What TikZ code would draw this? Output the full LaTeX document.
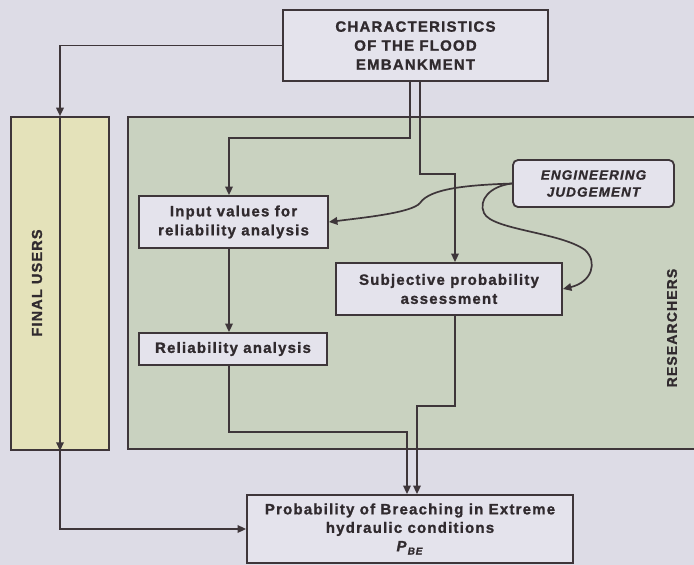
\documentclass[tikz,border=0pt]{standalone}
\usepackage{fontspec}
\setmainfont{Liberation Sans}[LetterSpace=8,
  BoldFeatures={FakeBold=1.2}, BoldItalicFeatures={FakeBold=1.2}]
\usetikzlibrary{arrows.meta}
\definecolor{bg}{RGB}{221,220,230}
\definecolor{boxf}{RGB}{228,227,236}
\definecolor{grn}{RGB}{201,210,192}
\definecolor{fuf}{RGB}{228,226,186}
\definecolor{ln}{RGB}{62,54,58}
\definecolor{txt}{RGB}{48,42,46}
\begin{document}
\begin{tikzpicture}[x=1pt,y=-1pt,
  box/.style={draw=ln, line width=1.8pt, fill=boxf, text=txt, align=center, inner sep=0pt,
    font=\bfseries\fontsize{15}{19}\selectfont},
  panel/.style={draw=ln, line width=1.6pt, inner sep=0pt},
  lab/.style={text=txt, inner sep=0pt, font=\bfseries\fontsize{14}{17}\selectfont},
  conn/.style={draw=ln, line width=1.7pt, -{Triangle[length=8.5pt,width=7.5pt]}}]
\useasboundingbox (0,0) rectangle (694,565);
\fill[bg] (0,0) rectangle (694,565);
\clip (0,0) rectangle (694,565);
% panels
\node[panel, fill=fuf, minimum width=98pt, minimum height=333pt] (fu) at (60,283.5) {};
\node[lab, rotate=90, font=\bfseries\fontsize{14.5}{17}\selectfont] (fut) at (37,283) {FINAL USERS};
\node[panel, fill=grn, minimum width=572pt, minimum height=332pt] (res) at (414,283) {};
\node[lab, rotate=90] (rest) at (672,328) {RESEARCHERS};
% boxes
\node[box, minimum width=265pt, minimum height=71pt] (char) at (415.5,45.5)
  {CHARACTERISTICS\\OF THE FLOOD\\EMBANKMENT};
\node[box, rounded corners=5pt, minimum width=161pt, minimum height=47pt,
  font=\bfseries\itshape\fontsize{13.5}{17}\selectfont] (ej) at (593.5,183.5)
  {ENGINEERING\\JUDGEMENT};
\node[box, minimum width=189pt, minimum height=52pt] (inp) at (233.5,222)
  {Input values for\\reliability analysis};
\node[box, minimum width=188pt, minimum height=32pt] (rel) at (233,349)
  {Reliability analysis};
\node[box, minimum width=226pt, minimum height=52pt] (subj) at (449,289)
  {Subjective probability\\assessment};
\node[box, minimum width=326pt, minimum height=68pt, font=\bfseries\fontsize{15}{18.5}\selectfont] (prob) at (410,529)
  {Probability of Breaching in Extreme\\hydraulic conditions\\\textit{P}\raisebox{-0.4ex}{\fontsize{10}{12}\selectfont\textit{BE}}};
% connectors
\draw[conn] (char.west) -| (fu.north);
\draw[conn] (fu.north) -- (fu.south);
\draw[conn] (fu.south) |- (prob.west);
\draw[conn] ([xshift=-5.5pt]char.south) -- ++(0,56) -| ([xshift=-4.5pt]inp.north);
\draw[conn] ([xshift=4.5pt]char.south) -- ++(0,92) -| ([xshift=6pt]subj.north);
\draw[conn] ([xshift=-4.5pt]inp.south) -- ([xshift=-4pt]rel.north);
\draw[conn] ([xshift=-4pt]rel.south) -- ++(0,66) -| ([xshift=-3pt]prob.north);
\draw[conn] ([xshift=6pt]subj.south) -- ++(0,90) -| ([xshift=7pt]prob.north);
\draw[conn] (ej.west) .. controls (470,185) and (430,188) .. (420,203)
  .. controls (412,213) and (360,218) .. (inp.east);
\draw[conn] (ej.west) .. controls (490,186) and (478,200) .. (484,213)
  .. controls (492,230) and (560,232) .. (585,250)
  .. controls (598,262) and (592,282) .. (subj.east);
\end{tikzpicture}
\end{document}
